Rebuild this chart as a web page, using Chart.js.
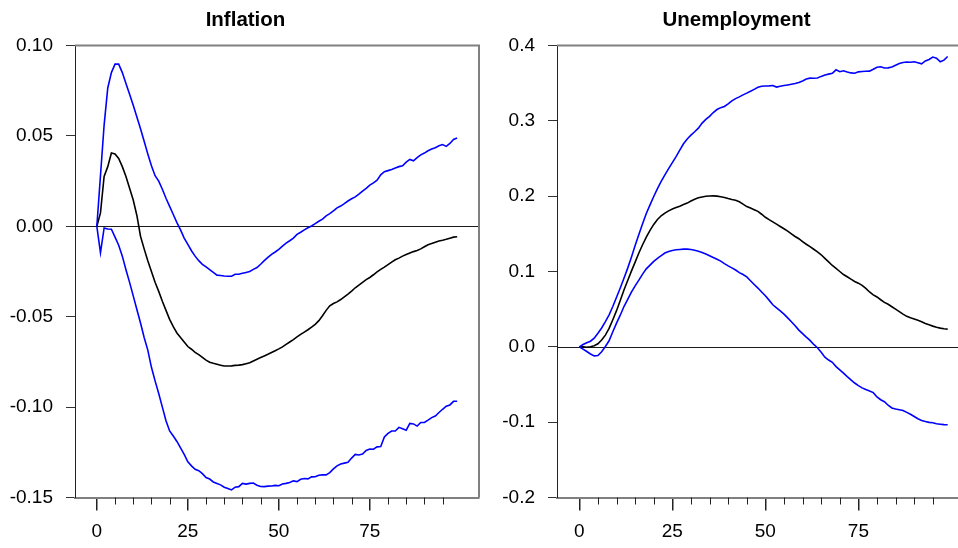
<!DOCTYPE html>
<html>
<head>
<meta charset="utf-8">
<script src="https://cdn.jsdelivr.net/npm/chart.js@4.4.1/dist/chart.umd.min.js"></script>
<style>
  html, body { margin: 0; padding: 0; background: #fff; overflow: hidden; width: 958px; height: 548px; }
  canvas { position: absolute; top: 0; }
</style>
</head>
<body>
<canvas id="inflation" style="left:0px"></canvas>
<canvas id="unemployment" style="left:480px"></canvas>
<script>
// Impulse responses: median (black) and error bands (blue), horizons 0..99
const steps = Array.from({ length: 100 }, (_, i) => i);

const inflationUpper = [
  0, 0.028, 0.056, 0.0765, 0.085, 0.0897, 0.0897, 0.085, 0.079, 0.073,
  0.067, 0.0605, 0.054, 0.047, 0.040, 0.0335, 0.028, 0.025, 0.0205, 0.0155,
  0.011, 0.0065, 0.002, -0.002, -0.0065, -0.010, -0.0135, -0.0165, -0.019, -0.021,
  -0.0225, -0.024, -0.0255, -0.027, -0.0272, -0.0275, -0.0276, -0.0276, -0.0265, -0.0265,
  -0.026, -0.0255, -0.025, -0.0238, -0.0228, -0.021, -0.019, -0.0172, -0.0155, -0.0142,
  -0.0128, -0.011, -0.0093, -0.008, -0.0065, -0.0045, -0.0033, -0.002, -0.0008, 0.0002,
  0.0015, 0.0028, 0.004, 0.0058, 0.007, 0.0085, 0.0102, 0.0112, 0.0125, 0.014,
  0.0152, 0.0163, 0.0178, 0.0195, 0.021, 0.0228, 0.024, 0.0255, 0.0285, 0.0302,
  0.0308, 0.0314, 0.0322, 0.033, 0.0335, 0.0355, 0.037, 0.0362, 0.038, 0.0395,
  0.0405, 0.0418, 0.0428, 0.0435, 0.0445, 0.0452, 0.0442, 0.0458, 0.048, 0.0488
];
const inflationMedian = [
  0, 0.0074, 0.0276, 0.033, 0.0405, 0.040, 0.0375, 0.033, 0.0276, 0.021,
  0.0145, 0.006, -0.0055, -0.0125, -0.019, -0.025, -0.031, -0.036, -0.0415, -0.0465,
  -0.0515, -0.0555, -0.059, -0.0615, -0.064, -0.0665, -0.068, -0.0697, -0.071, -0.0725,
  -0.074, -0.0752, -0.0758, -0.0763, -0.0768, -0.0773, -0.0773, -0.0772, -0.0769, -0.0768,
  -0.0765, -0.076, -0.0755, -0.0745, -0.0735, -0.0726, -0.0717, -0.0708, -0.0698, -0.0688,
  -0.0678, -0.0667, -0.0653, -0.064, -0.0627, -0.0612, -0.0598, -0.0585, -0.0572, -0.0558,
  -0.0542, -0.0522, -0.0495, -0.0465, -0.044, -0.0427, -0.0418, -0.0405, -0.039, -0.0375,
  -0.0358, -0.034, -0.0325, -0.031, -0.0295, -0.0283, -0.0268, -0.0252, -0.0238, -0.0226,
  -0.0212, -0.0198, -0.0185, -0.0176, -0.0165, -0.0156, -0.0148, -0.014, -0.0134, -0.0125,
  -0.0113, -0.0102, -0.0095, -0.0088, -0.0081, -0.0077, -0.0072, -0.0066, -0.006, -0.0058
];
const inflationLower = [
  0, -0.0147, -0.0009, -0.0015, -0.0016, -0.006, -0.0105, -0.0165, -0.024, -0.031,
  -0.0385, -0.046, -0.0535, -0.0615, -0.0685, -0.078, -0.0855, -0.0925, -0.1, -0.1075,
  -0.1132, -0.116, -0.119, -0.1225, -0.1262, -0.1303, -0.1325, -0.1344, -0.1352, -0.1368,
  -0.139, -0.1398, -0.1414, -0.1422, -0.143, -0.1443, -0.145, -0.1458, -0.1443, -0.144,
  -0.1422, -0.1426, -0.1422, -0.142, -0.1432, -0.1439, -0.144, -0.1437, -0.1436, -0.1433,
  -0.1435, -0.1425, -0.1422, -0.1417, -0.1408, -0.1412, -0.1399, -0.1395, -0.1397, -0.1386,
  -0.1385, -0.1377, -0.1375, -0.1375, -0.1362, -0.1342, -0.1325, -0.1315, -0.131, -0.1305,
  -0.1282, -0.1262, -0.1265, -0.126, -0.124, -0.1232, -0.1233, -0.122, -0.1218, -0.1165,
  -0.1145, -0.1132, -0.1132, -0.1112, -0.112, -0.1128, -0.109, -0.1093, -0.1105, -0.1085,
  -0.1085, -0.1072, -0.1058, -0.1049, -0.103, -0.1012, -0.0995, -0.0988, -0.0968, -0.0968
];

const unemploymentUpper = [
  0, 0.003, 0.0055, 0.0075, 0.0115, 0.018, 0.025, 0.0335, 0.0425, 0.0535,
  0.0658, 0.078, 0.091, 0.1045, 0.119, 0.1345, 0.149, 0.1635, 0.177, 0.1885,
  0.1995, 0.21, 0.2195, 0.2283, 0.2365, 0.2445, 0.2525, 0.261, 0.2695, 0.276,
  0.281, 0.2855, 0.2903, 0.297, 0.302, 0.306, 0.311, 0.315, 0.3175, 0.319,
  0.3225, 0.3265, 0.3295, 0.3318, 0.3345, 0.3368, 0.3392, 0.3418, 0.3445, 0.346,
  0.3463, 0.3464, 0.3468, 0.3448, 0.346, 0.3468, 0.3476, 0.3485, 0.3495, 0.3509,
  0.353, 0.3555, 0.3567, 0.3566, 0.3568, 0.359, 0.3608, 0.362, 0.363, 0.3677,
  0.3652, 0.3665, 0.3648, 0.3636, 0.3632, 0.365, 0.3655, 0.3658, 0.366, 0.3685,
  0.3712, 0.3718, 0.3702, 0.3703, 0.3715, 0.3738, 0.3762, 0.3775, 0.378, 0.3778,
  0.3785, 0.3772, 0.3757, 0.3795, 0.3815, 0.3846, 0.3832, 0.3783, 0.3805, 0.3854
];
const unemploymentMedian = [
  0, 0, -0.0005, 0, 0.0015, 0.004, 0.009, 0.0155, 0.0245, 0.036,
  0.048, 0.0615, 0.0755, 0.088, 0.1005, 0.1125, 0.1245, 0.1355, 0.1455, 0.1545,
  0.1625, 0.169, 0.174, 0.1775, 0.1805, 0.183, 0.1848, 0.1865, 0.1888, 0.1908,
  0.1935, 0.196, 0.1978, 0.199, 0.1998, 0.2003, 0.2004, 0.2, 0.1992, 0.1983,
  0.1968, 0.1955, 0.1945, 0.1925, 0.1895, 0.1862, 0.1842, 0.182, 0.1798, 0.176,
  0.172, 0.1688, 0.1658, 0.1628, 0.1598, 0.1567, 0.1535, 0.15, 0.1465, 0.1435,
  0.1398, 0.1362, 0.133, 0.1295, 0.126, 0.1222, 0.1175, 0.1128, 0.108, 0.104,
  0.1, 0.096, 0.093, 0.0898, 0.0868, 0.0845, 0.0815, 0.0775, 0.0728, 0.069,
  0.0662, 0.0625, 0.059, 0.0565, 0.0532, 0.05, 0.0468, 0.0435, 0.0405, 0.0385,
  0.0368, 0.0352, 0.0332, 0.031, 0.0293, 0.0275, 0.026, 0.0248, 0.024, 0.0235
];
const unemploymentLower = [
  0, -0.003, -0.0062, -0.0095, -0.012, -0.0115, -0.0065, 0.0005, 0.008, 0.02,
  0.0315, 0.042, 0.0535, 0.063, 0.0725, 0.081, 0.0885, 0.0965, 0.1035, 0.1085,
  0.1135, 0.1175, 0.121, 0.1245, 0.1265, 0.128, 0.1288, 0.1293, 0.1297, 0.1297,
  0.1292, 0.1283, 0.127, 0.1253, 0.1232, 0.121, 0.1185, 0.1162, 0.1138, 0.1105,
  0.1075, 0.1048, 0.102, 0.0985, 0.096, 0.0928, 0.0878, 0.0828, 0.078, 0.0728,
  0.0678, 0.062, 0.0558, 0.0518, 0.0478, 0.0435, 0.0385, 0.0333, 0.028, 0.0222,
  0.0175, 0.0128, 0.0085, 0.0032, -0.0012, -0.0072, -0.0137, -0.0175, -0.0205, -0.0262,
  -0.0305, -0.0349, -0.0395, -0.0438, -0.048, -0.0515, -0.0545, -0.0567, -0.0585, -0.0608,
  -0.0665, -0.0702, -0.0728, -0.0775, -0.0812, -0.0825, -0.0835, -0.0845, -0.087, -0.0895,
  -0.0925, -0.0955, -0.0978, -0.0992, -0.1003, -0.1008, -0.102, -0.1027, -0.1033, -0.1035
];

// Axis ticks
const xMajorTicks = [0, 25, 50, 75];
const xMinorTicks = [5, 10, 15, 20, 30, 35, 40, 45, 55, 60, 65, 70, 80, 85, 90, 95];
const inflationTicks = [-0.15, -0.10, -0.05, 0, 0.05, 0.10];
const inflationTickLabels = ['-0.15', '-0.10', '-0.05', '0.00', '0.05', '0.10'];
const unemploymentTicks = [-0.2, -0.1, 0, 0.1, 0.2, 0.3, 0.4];
const unemploymentTickLabels = ['-0.2', '-0.1', '0.0', '0.1', '0.2', '0.3', '0.4'];

const FONT = '"Liberation Sans", Arial, Helvetica, sans-serif';

// Zero line, minor x ticks, box edges and panel title
const panelDecor = {
  id: 'panelDecor',
  beforeDatasetsDraw(chart) {
    const { ctx, chartArea: a, scales: { x, y } } = chart;
    ctx.save();
    const y0 = Math.round(y.getPixelForValue(0)) + 0.5;
    ctx.strokeStyle = '#1a1a1a';
    ctx.lineWidth = 1;
    ctx.beginPath();
    ctx.moveTo(a.left, y0);
    ctx.lineTo(a.right, y0);
    ctx.stroke();

    ctx.strokeStyle = '#222';
    ctx.lineWidth = 1;
    ctx.beginPath();
    xMinorTicks.forEach(v => {
      const px = Math.round(x.getPixelForValue(v)) + 0.5;
      ctx.moveTo(px, a.bottom);
      ctx.lineTo(px, a.bottom + 7);
    });
    ctx.stroke();
    ctx.restore();
  },
  afterDraw(chart, args, opts) {
    const { ctx, chartArea: a } = chart;
    ctx.save();
    ctx.strokeStyle = '#808080';
    ctx.lineWidth = 2;
    ctx.beginPath();
    ctx.moveTo(a.left, a.top);
    ctx.lineTo(a.right, a.top);
    ctx.lineTo(a.right, a.bottom);
    ctx.stroke();

    ctx.fillStyle = '#000';
    ctx.font = 'bold 20.5px ' + FONT;
    ctx.textAlign = 'center';
    ctx.textBaseline = 'alphabetic';
    ctx.fillText(opts.title, chart.width / 2, 25.7);
    ctx.restore();
  }
};

function toPoints(values) {
  return values.map((v, i) => ({ x: steps[i], y: v }));
}

function makePanel(id, size, title, upper, median, lower, yMin, yMax, yTicks, yLabels, axisWidth, padRight) {
  const canvas = document.getElementById(id);
  canvas.width = size.w;
  canvas.height = size.h;
  const line = (data, color) => ({
    data: toPoints(data),
    borderColor: color,
    borderWidth: 1.6,
    pointRadius: 0,
    tension: 0,
    fill: false
  });
  return new Chart(canvas, {
    type: 'line',
    data: {
      datasets: [
        line(upper, '#0000ff'),
        line(lower, '#0000ff'),
        line(median, '#000000')
      ]
    },
    options: {
      responsive: false,
      animation: false,
      devicePixelRatio: 1,
      layout: { padding: { top: 45.5, right: padRight, bottom: 0, left: 0 } },
      plugins: {
        legend: { display: false },
        tooltip: { enabled: false },
        panelDecor: { title: title }
      },
      scales: {
        x: {
          type: 'linear',
          min: -6,
          max: 105,
          afterBuildTicks: s => { s.ticks = xMajorTicks.map(v => ({ value: v })); },
          afterFit: s => { s.height = 50.5; },
          grid: { drawOnChartArea: false, drawTicks: true, tickLength: 13, color: '#222', lineWidth: 1.5 },
          border: { display: true, color: '#808080', width: 2 },
          ticks: {
            color: '#000',
            font: { family: FONT, size: 19 },
            padding: 10,
            maxRotation: 0,
            autoSkip: false,
            callback: v => String(v)
          }
        },
        y: {
          type: 'linear',
          min: yMin,
          max: yMax,
          afterBuildTicks: s => { s.ticks = yTicks.map(v => ({ value: v })); },
          afterFit: s => { s.width = axisWidth; },
          grid: { drawOnChartArea: false, drawTicks: true, tickLength: 9, color: '#333', lineWidth: 1 },
          border: { display: true, color: '#222', width: 1 },
          ticks: {
            color: '#000',
            font: { family: FONT, size: 19 },
            padding: 13,
            callback: (v, i) => yLabels[i]
          }
        }
      }
    },
    plugins: [panelDecor]
  });
}

makePanel('inflation', { w: 491, h: 548 }, 'Inflation',
  inflationUpper, inflationMedian, inflationLower,
  -0.15, 0.10, inflationTicks, inflationTickLabels, 75, 12);

makePanel('unemployment', { w: 513, h: 548 }, 'Unemployment',
  unemploymentUpper, unemploymentMedian, unemploymentLower,
  -0.2, 0.4, unemploymentTicks, unemploymentTickLabels, 77, 23);
</script>
</body>
</html>
